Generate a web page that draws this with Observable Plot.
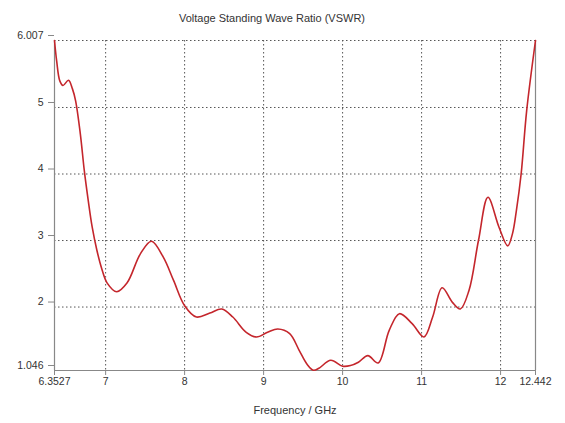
<!DOCTYPE html>
<html>
<head>
<meta charset="utf-8">
<script src="https://cdn.jsdelivr.net/npm/d3@7"></script>
<script src="https://cdn.jsdelivr.net/npm/@observablehq/plot@0.6"></script>
<style>
  html, body { margin: 0; padding: 0; background: #fff; }
  svg { display: block; }
</style>
</head>
<body>
<div id="chart"></div>
<script>
// Frequency sweep (GHz) and measured VSWR
const freq = [6.3527, 6.38, 6.42, 6.46, 6.53, 6.58, 6.62, 6.68, 6.73, 6.78, 6.83, 6.89, 6.95, 7.02, 7.14, 7.27, 7.44, 7.58, 7.73, 7.86, 8.0, 8.15, 8.32, 8.47, 8.61, 8.78, 8.91, 9.05, 9.18, 9.33, 9.45, 9.55, 9.63, 9.7, 9.85, 10.0, 10.1, 10.2, 10.32, 10.45, 10.59, 10.72, 10.88, 11.03, 11.14, 11.26, 11.39, 11.49, 11.6, 11.72, 11.84, 11.98, 12.09, 12.15, 12.2, 12.26, 12.33, 12.442];
const vswr = [6.007, 5.7, 5.4, 5.33, 5.41, 5.28, 5.1, 4.6, 4.05, 3.6, 3.2, 2.85, 2.58, 2.36, 2.23, 2.36, 2.8, 2.99, 2.75, 2.4, 2.02, 1.85, 1.91, 1.97, 1.85, 1.62, 1.55, 1.62, 1.67, 1.6, 1.35, 1.14, 1.05, 1.08, 1.2, 1.11, 1.12, 1.17, 1.27, 1.16, 1.65, 1.9, 1.75, 1.55, 1.85, 2.29, 2.07, 1.97, 2.25, 3.0, 3.65, 3.2, 2.92, 3.1, 3.45, 4.0, 4.95, 6.007];

// Axis ticks
const xTicks = [6.3527, 7, 8, 9, 10, 11, 12, 12.442];
const yTicks = [1.046, 2, 3, 4, 5, 6.007];
const xGrid = [7, 8, 9, 10, 11, 12];
const yGrid = [2, 3, 4, 5, 6.007];

const title = "Voltage Standing Wave Ratio (VSWR)";
const xLabel = "Frequency / GHz";

const data = freq.map((f, i) => ({f, v: vswr[i]}));
const x0 = xTicks[0], x1 = xTicks[xTicks.length - 1];
const y0 = yTicks[0], y1 = yTicks[yTicks.length - 1];

const chart = Plot.plot({
  width: 565,
  height: 423,
  marginLeft: 54,
  marginRight: 30,
  marginTop: 40,
  marginBottom: 53,
  style: {fontFamily: "'Liberation Sans', Arial, sans-serif", fontSize: "10px", color: "#333", background: "#fff"},
  x: {domain: [x0, x1], ticks: xTicks, tickFormat: d => String(d)},
  y: {domain: [y0, y1], ticks: yTicks, tickFormat: d => String(d)},
  marks: [
    Plot.ruleX(xGrid, {stroke: "#555", strokeDasharray: "1.5,2.5", strokeWidth: 1}),
    Plot.ruleY(yGrid, {stroke: "#555", strokeDasharray: "1.5,2.5", strokeWidth: 1}),
    Plot.ruleX([x0, x1], {stroke: "#888", strokeWidth: 1.2}),
    Plot.ruleY([y0], {stroke: "#888", strokeWidth: 1.2}),
    Plot.axisX({ticks: xTicks, tickFormat: d => String(d), tickSize: 5, tickPadding: 2, stroke: "#888", fill: "#333", fontSize: 10.5, label: null}),
    Plot.axisY({ticks: yTicks, tickFormat: d => String(d), tickSize: 6, tickPadding: 5, dy: -5, stroke: "#888", fill: "#333", fontSize: 10.5, label: null}),
    Plot.line(data, {x: "f", y: "v", curve: "catmull-rom", stroke: "#c4262c", strokeWidth: 1.6}),
    Plot.text([title], {frameAnchor: "top", dx: -23, dy: -26, fontSize: 11, fill: "#333"}),
    Plot.text([xLabel], {frameAnchor: "bottom", dx: 0, dy: 43, fontSize: 11, fill: "#333"})
  ]
});
document.getElementById("chart").appendChild(chart);
</script>
</body>
</html>
